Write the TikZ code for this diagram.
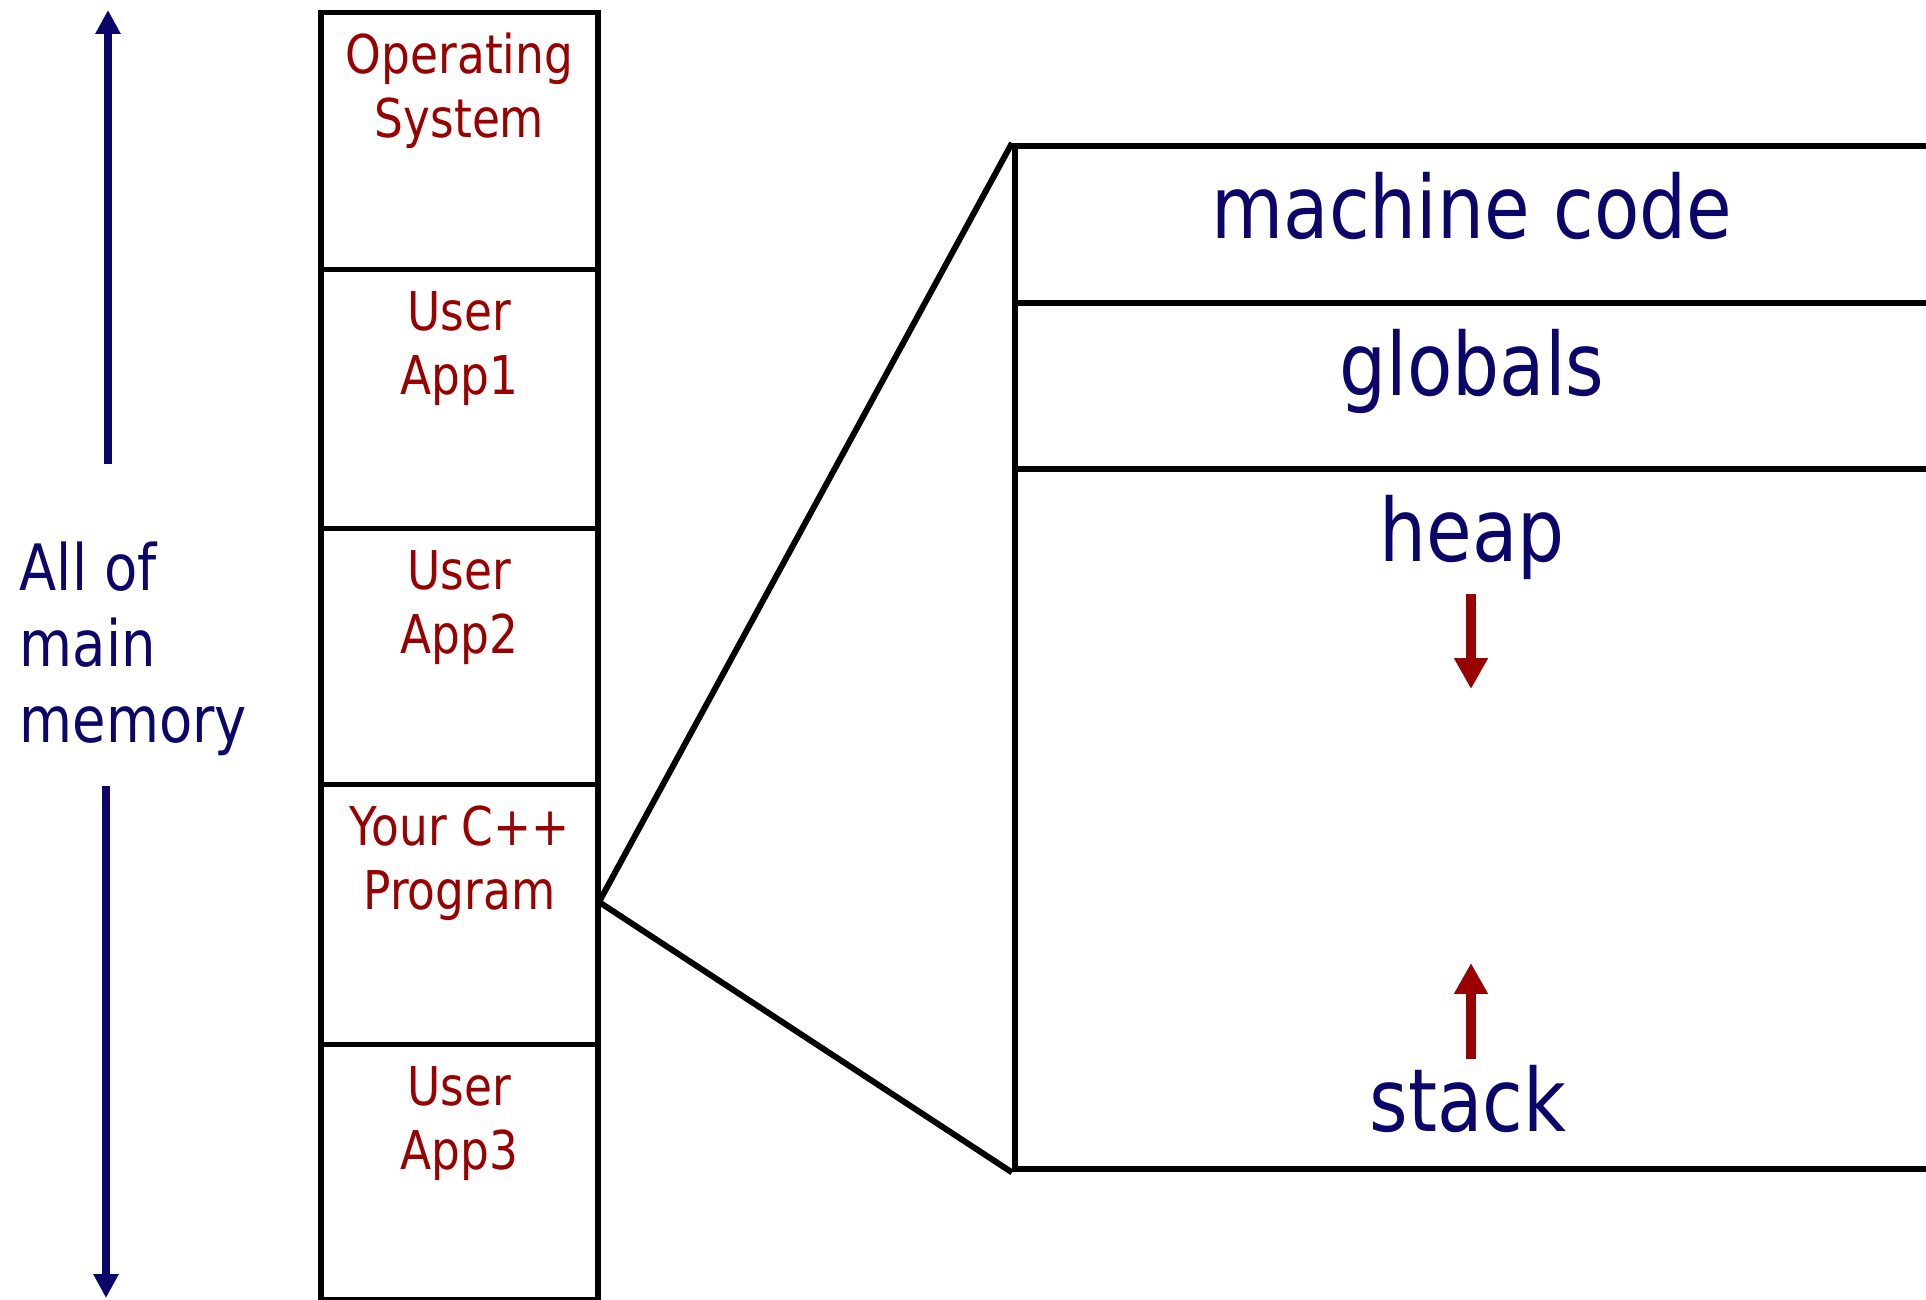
\documentclass[tikz,border=0pt]{standalone}
\usepackage{fontspec}
\setmainfont[FakeStretch=0.85]{DejaVu Sans}
\usetikzlibrary{arrows.meta,calc}

\definecolor{memblue}{RGB}{12,6,106}
\definecolor{memred}{RGB}{153,0,0}

\begin{document}
\begin{tikzpicture}[x=0.01cm,y=-0.01cm]

  \tikzstyle{block} = [draw, line width=1.5pt, minimum width=2.77cm, inner sep=0, anchor=north]
  \tikzstyle{segment} = [draw, line width=1.7pt, minimum width=9.28cm, inner sep=0, anchor=north west]
  \tikzstyle{applabel} = [memred, font=\fontsize{15.2}{18.2}\selectfont, align=center, anchor=base, inner sep=0]
  \tikzstyle{seglabel} = [memblue, font=\fontsize{24.8}{29}\selectfont, anchor=base, inner sep=0]
  \tikzstyle{memarrow} = [memblue, line width=2.2pt, -{Triangle[width=6.8pt,length=6.8pt]}]
  \tikzstyle{growarrow} = [memred, line width=3.1pt, -{Triangle[width=9.1pt,length=8.8pt]}]

  \useasboundingbox (0,0) rectangle (1926,1299);
  \clip (0,0) rectangle (1926,1299);

  % main memory column
  \node[block, minimum height=2.57cm] (os) at (459.5,10) {};
  \node[block, minimum height=2.59cm] (app1) at (459.5,267) {};
  \node[block, minimum height=2.56cm] (app2) at (459.5,526) {};
  \node[block, minimum height=2.60cm] (prog) at (459.5,782) {};
  \node[block, minimum height=2.55cm] (app3) at (459.5,1042) {};

  % base of a two line label is its second line
  \node[applabel] (oslabel) at ($(os.north)+(0,127)$) {Operating\\System};
  \node[applabel] (app1label) at ($(app1.north)+(0,127)$) {User\\App1};
  \node[applabel] (app2label) at ($(app2.north)+(0,127)$) {User\\App2};
  \node[applabel] (proglabel) at ($(prog.north)+(0,127)$) {Your C++\\Program};
  \node[applabel] (app3label) at ($(app3.north)+(0,127)$) {User\\App3};

  \node[memblue, font=\fontsize{18.2}{21.6}\selectfont, align=left, anchor=base west, inner sep=0]
    (memlabel) at (19,742) {All of\\main\\memory};

  \coordinate (uptail) at (108,464);
  \coordinate (uptip) at (108,10);
  \coordinate (downtail) at (106,786);
  \coordinate (downtip) at (106,1298);
  \draw[memarrow] (uptail) -- (uptip);
  \draw[memarrow] (downtail) -- (downtip);

  % program layout
  \node[segment, minimum height=1.57cm] (code) at (1012,143) {};
  \node[segment, minimum height=1.66cm] (globals) at (1012,300) {};
  \node[segment, minimum height=7.00cm] (heapseg) at (1012,466) {};

  \node[seglabel] (codelabel) at (1472,238) {machine code};
  \node[seglabel] (globlabel) at (1472,395) {globals};
  \node[seglabel] (heaplabel) at (1472,561) {heap};
  \node[seglabel] (stacklabel) at (1468,1131) {stack};

  \coordinate (heaptail) at (1471,594);
  \coordinate (heaptip) at (1471,689);
  \coordinate (stacktail) at (1471,1059);
  \coordinate (stacktip) at (1471,963);
  \draw[growarrow] (heaptail) -- (heaptip);
  \draw[growarrow] (stacktail) -- (stacktip);

  \coordinate (apex) at (599,902);
  \draw[line width=1.7pt, line join=miter] (code.north west) -- (apex) -- (heapseg.south west);

\end{tikzpicture}
\end{document}
